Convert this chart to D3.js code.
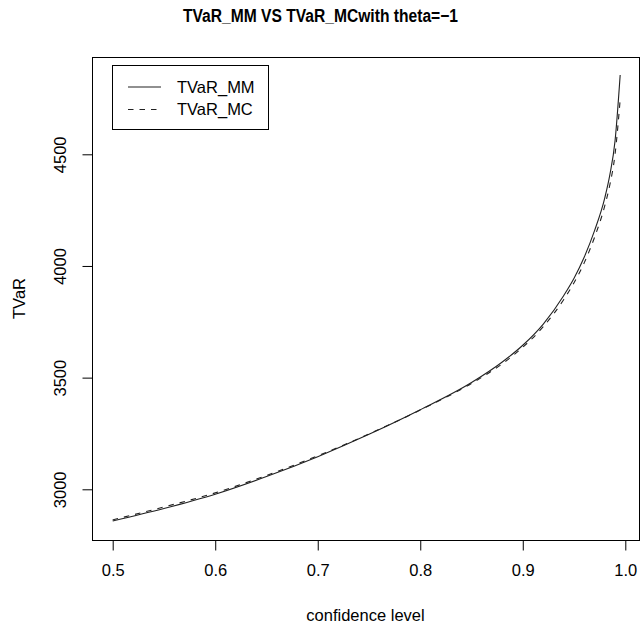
<!DOCTYPE html>
<html>
<head>
<meta charset="utf-8">
<script src="https://cdn.jsdelivr.net/npm/d3@7"></script>
<style>
  body { margin: 0; background: #fff; }
  text { font-family: "Liberation Sans", Arial, Helvetica, sans-serif; fill: #000; }
</style>
</head>
<body>
<div id="chart"></div>
<script>
// confidence levels
const levels = [0.50, 0.55, 0.60, 0.65, 0.70, 0.75, 0.80, 0.85, 0.88, 0.90,
                0.92, 0.94, 0.95, 0.96, 0.97, 0.98, 0.985, 0.99, 0.995];
// TVaR by moment method (solid)
const tvarMM = [2858, 2914, 2978, 3057, 3146, 3246, 3356, 3478, 3570, 3645,
                3740, 3868, 3945, 4040, 4158, 4305, 4410, 4560, 4855];
// TVaR by Monte Carlo (dashed)
const tvarMC = [2863, 2921, 2984, 3062, 3150, 3248, 3355, 3474, 3562, 3636,
                3728, 3850, 3925, 4015, 4128, 4270, 4365, 4500, 4745];
const xTicks = [0.5, 0.6, 0.7, 0.8, 0.9, 1.0];
const yTicks = [3000, 3500, 4000, 4500];
const legendNames = ["TVaR_MM", "TVaR_MC"];

const width = 640, height = 628;
const box = { left: 92, right: 639, top: 57, bottom: 540 };

const svg = d3.select("#chart").append("svg")
  .attr("width", width)
  .attr("height", height);

const x = d3.scaleLinear().domain([0.5, 1.0]).range([112.7, 625.3]);
const y = d3.scaleLinear().domain([3000, 4500]).range([489.3, 154.3]);

// title
svg.append("text")
  .attr("x", 320.5)
  .attr("y", 22)
  .attr("text-anchor", "middle")
  .attr("textLength", 275)
  .attr("lengthAdjust", "spacingAndGlyphs")
  .style("font-size", "18px")
  .style("font-weight", "bold")
  .text("TVaR_MM VS TVaR_MCwith theta=\u22121");

// lines
const line = ys => d3.line()
  .x((d, i) => x(levels[i]))
  .y(d => y(d))
  .curve(d3.curveMonotoneX)(ys);

svg.append("path")
  .attr("d", line(tvarMM))
  .attr("fill", "none")
  .attr("stroke", "#222")
  .attr("stroke-width", 1.1);

svg.append("path")
  .attr("d", line(tvarMC))
  .attr("fill", "none")
  .attr("stroke", "#222")
  .attr("stroke-width", 1.1)
  .attr("stroke-dasharray", "5.5,6");

// plot box
svg.append("rect")
  .attr("x", box.left + 0.5)
  .attr("y", box.top + 0.5)
  .attr("width", box.right - box.left)
  .attr("height", box.bottom - box.top)
  .attr("fill", "none")
  .attr("stroke", "#000")
  .attr("stroke-width", 1);

// x axis
const xAxis = svg.append("g")
  .attr("transform", `translate(0,${box.bottom + 0.5})`)
  .call(d3.axisBottom(x).tickValues(xTicks).tickSize(10).tickPadding(14)
    .tickFormat(d3.format(".1f")));
xAxis.select(".domain")
  .attr("d", `M${x(0.5)},0H${x(1.0)}`);
xAxis.selectAll("text").style("font-size", "16.5px").style("font-family", null);

// y axis
const yAxis = svg.append("g")
  .attr("transform", `translate(${box.left + 0.5},0)`)
  .call(d3.axisLeft(y).tickValues(yTicks).tickSize(10).tickFormat(d3.format("d")));
yAxis.select(".domain")
  .attr("d", `M0,${y(3000)}V${y(4500)}`);
yAxis.selectAll("text")
  .style("font-size", "16.5px")
  .style("font-family", null)
  .attr("text-anchor", "middle")
  .attr("dy", null)
  .attr("x", null)
  .attr("y", null)
  .attr("transform", "translate(-27,0) rotate(-90)");

// axis titles
svg.append("text")
  .attr("x", (box.left + box.right) / 2)
  .attr("y", 621)
  .attr("text-anchor", "middle")
  .style("font-size", "16.5px")
  .text("confidence level");

svg.append("text")
  .attr("transform", `translate(25,${(box.top + box.bottom) / 2}) rotate(-90)`)
  .attr("text-anchor", "middle")
  .style("font-size", "16.5px")
  .text("TVaR");

// legend
const legend = svg.append("g");
legend.append("rect")
  .attr("x", 112.5).attr("y", 65.5)
  .attr("width", 156).attr("height", 64)
  .attr("fill", "#fff")
  .attr("stroke", "#000");

legendNames.forEach((name, i) => {
  const ly = 87 + i * 22.5;
  legend.append("line")
    .attr("x1", 128).attr("x2", 161)
    .attr("y1", ly).attr("y2", ly)
    .attr("stroke", "#222")
    .attr("stroke-width", 1.1)
    .attr("stroke-dasharray", i === 1 ? "5.5,6" : null);
  legend.append("text")
    .attr("x", 177)
    .attr("y", ly)
    .attr("dy", "0.35em")
    .style("font-size", "16.5px")
    .text(name);
});
</script>
</body>
</html>
